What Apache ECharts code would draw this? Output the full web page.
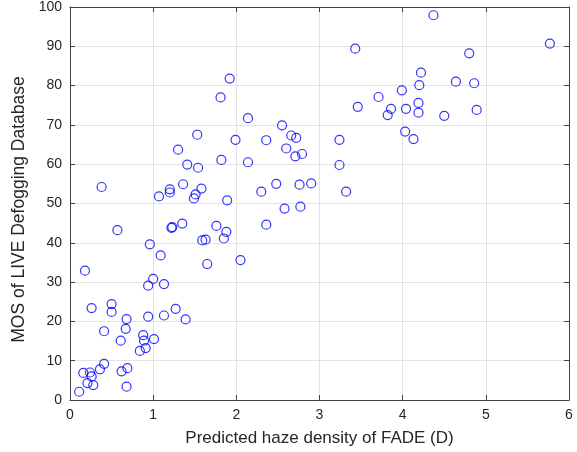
<!DOCTYPE html>
<html>
<head>
<meta charset="utf-8">
<script src="https://cdn.jsdelivr.net/npm/echarts@6/dist/echarts.min.js"></script>
<style>
html, body { margin: 0; padding: 0; background: #fff; }
#container { width: 577px; height: 452px; }
</style>
</head>
<body>
<div id="container"></div>
<script>
// predicted haze density (FADE) vs MOS
var fadeD = [
  0.38, 1.07, 1.20, 1.20, 1.36, 1.30, 1.41, 1.54, 1.53, 1.49, 1.51, 1.58,
  1.81, 1.92, 1.82, 1.89, 1.99, 2.14, 2.14, 2.30, 2.36, 2.48, 2.55, 2.60,
  2.66, 2.72, 2.71, 2.79, 2.76, 2.90, 2.58, 2.77,
  4.37, 5.77, 3.43, 4.80, 4.22, 4.64, 4.86, 4.20, 3.99, 3.71, 3.46, 3.86,
  3.82, 4.04, 4.19, 4.19, 4.50, 4.89, 4.03, 4.13, 3.24, 3.24, 3.32,
  2.36, 1.76, 1.88, 1.85, 1.35, 1.22, 1.23, 1.59, 1.63, 2.05, 1.65, 0.57,
  0.96, 1.09, 0.18, 1.00, 0.94, 1.13, 0.26, 0.50, 0.50, 1.27, 0.94, 1.13,
  1.39, 0.68, 0.67, 0.41, 0.61, 0.88, 0.89, 0.91, 0.84, 1.01, 0.41, 0.36,
  0.69, 0.62, 0.16, 0.24, 0.26, 0.21, 0.28, 0.68, 0.11
];
var mos = [
  54.2, 51.8, 53.6, 52.8, 54.9, 63.7, 59.9, 59.1, 67.5, 51.3, 52.3, 53.8,
  77.0, 81.8, 61.1, 50.8, 66.2, 71.7, 60.5, 53.0, 66.1, 55.0, 69.9, 64.0,
  67.3, 66.7, 62.0, 62.6, 54.8, 55.1, 48.7, 49.2,
  97.9, 90.7, 89.4, 88.2, 83.3, 81.0, 80.6, 80.1, 78.8, 77.1, 74.6, 74.1,
  72.5, 74.1, 75.6, 73.1, 72.3, 73.8, 68.3, 66.4, 66.2, 59.8, 53.0,
  44.6, 44.3, 42.8, 41.1, 44.9, 43.8, 44.0, 40.6, 40.8, 35.6, 34.6, 43.2,
  39.6, 36.8, 32.9, 30.8, 29.1, 29.5, 23.4, 24.4, 22.4, 23.2, 21.2, 21.5,
  20.5, 20.6, 18.1, 17.5, 15.1, 16.5, 15.1, 13.2, 12.5, 15.5, 9.2, 7.8,
  8.1, 7.3, 6.9, 7.0, 6.0, 4.3, 3.8, 3.4, 2.1
];

var points = [];
for (var i = 0; i < fadeD.length; i += 1) {
    points.push([fadeD[i], mos[i]]);
}

var dom = document.getElementById("container");
var myChart = echarts.init(dom);

var lineCol = '#404040';
var txtCol = '#262626';
var font = 'Liberation Sans';

function boxAxis(pos, min, max, interval) {
    return {
        type: 'value', position: pos, min: min, max: max, interval: interval,
        axisLine: { show: true, onZero: false, lineStyle: { color: lineCol, width: 1 } },
        axisTick: { show: true, inside: true, length: 5, lineStyle: { color: lineCol } },
        axisLabel: { show: false },
        splitLine: { show: false }
    };
}

var option = {
    animation: false,
    grid: { left: 70, right: 8, top: 7, bottom: 51, containLabel: false },
    xAxis: [{
        type: 'value', min: 0, max: 6, interval: 1,
        name: 'Predicted haze density of FADE (D)',
        nameLocation: 'middle', nameGap: 30,
        nameTextStyle: { color: txtCol, fontSize: 17, fontFamily: font },
        axisLine: { show: true, onZero: false, lineStyle: { color: lineCol, width: 1 } },
        axisTick: { show: true, inside: true, length: 5, lineStyle: { color: lineCol } },
        axisLabel: { color: txtCol, fontSize: 14, fontFamily: font, margin: 8 },
        splitLine: { show: true, lineStyle: { color: '#e3e3e3', width: 1 } }
    }, boxAxis('top', 0, 6, 1)],
    yAxis: [{
        type: 'value', min: 0, max: 100, interval: 10,
        name: 'MOS of LIVE Defogging Database',
        nameLocation: 'middle', nameGap: 31,
        // push the title a little lower, as in the picture
        nameTextStyle: { color: txtCol, fontSize: 17.5, fontFamily: font, padding: [0, 12, 0, 0] },
        axisLine: { show: true, onZero: false, lineStyle: { color: lineCol, width: 1 } },
        axisTick: { show: true, inside: true, length: 5, lineStyle: { color: lineCol } },
        axisLabel: { color: txtCol, fontSize: 14, fontFamily: font, margin: 8 },
        splitLine: { show: true, lineStyle: { color: '#e3e3e3', width: 1 } }
    }, boxAxis('right', 0, 100, 10)],
    series: [{
        type: 'scatter',
        data: points,
        symbol: 'circle',
        symbolSize: 9,
        itemStyle: { color: 'rgba(0,0,0,0)', borderColor: '#0000ff', borderWidth: 1.2 }
    }]
};
myChart.setOption(option);
</script>
</body>
</html>
